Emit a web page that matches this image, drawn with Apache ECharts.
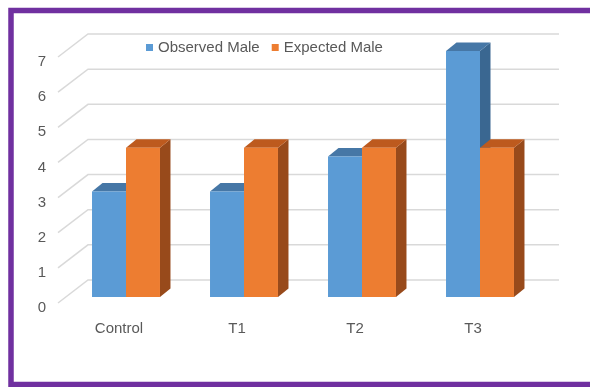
<!DOCTYPE html>
<html>
<head>
<meta charset="utf-8">
<script src="https://cdn.jsdelivr.net/npm/echarts@6/dist/echarts.min.js"></script>
<style>html,body{margin:0;padding:0;background:#fff;}#c{width:590px;height:387px;}</style>
</head>
<body>
<div id="c"></div>
<script>
const categories = ['Control', 'T1', 'T2', 'T3'];
const observedMale = [3, 3, 4, 7];
const expectedMale = [4.25, 4.25, 4.25, 4.25];
const yTicks = [0, 1, 2, 3, 4, 5, 6, 7];

const FONT = 'Liberation Sans';
const TEXT = '#595959';

function barRenderer(side, front, top, dark) {
  return function (params, api) {
    const i = api.value(0), v = api.value(1);
    const p = api.coord([i, v]);
    const b = api.coord([i, 0]);
    const bw = api.size([1, 0])[0] * 0.288;
    const x0 = side < 0 ? p[0] - bw : p[0];
    const x1 = x0 + bw;
    const yT = p[1], yB = b[1];
    const dx = 10.5, dy = -8.5;
    return {
      type: 'group',
      children: [
        { type: 'polygon', shape: { points: [[x1, yT], [x1 + dx, yT + dy], [x1 + dx, yB + dy], [x1, yB]] }, style: { fill: dark } },
        { type: 'polygon', shape: { points: [[x0, yT], [x0 + dx, yT + dy], [x1 + dx, yT + dy], [x1, yT]] }, style: { fill: top } },
        { type: 'rect', shape: { x: x0, y: yT, width: bw, height: yB - yT }, style: { fill: front } }
      ]
    };
  };
}

function wallRenderer(params, api) {
  const v = api.value(1);
  const cs = params.coordSys;
  const y = api.coord([0, v])[1];
  const fx = cs.x - 9, fy = y + 6;
  const bx = cs.x + 21, by = y - 17;
  const ex = cs.x + cs.width + 20;
  return {
    type: 'polyline',
    shape: { points: [[fx, fy], [bx, by], [ex, by]] },
    style: { stroke: '#d9d9d9', lineWidth: 1.5, fill: null }
  };
}

const chart = echarts.init(document.getElementById('c'), null, { renderer: 'canvas' });
chart.setOption({
  animation: false,
  backgroundColor: '#ffffff',
  textStyle: { fontFamily: FONT },
  graphic: [{
    type: 'rect', z: 100,
    shape: { x: 11, y: 10.5, width: 640, height: 374 },
    style: { fill: null, stroke: '#7030A0', lineWidth: 5.5 }
  }],
  legend: {
    left: 141, top: 35,
    itemWidth: 7, itemHeight: 7, itemGap: 12,
    icon: 'rect',
    textStyle: { color: TEXT, fontSize: 15, fontFamily: FONT },
    data: ['Observed Male', 'Expected Male']
  },
  grid: { left: 67, width: 472, top: 51, height: 246 },
  xAxis: {
    type: 'category', data: categories, boundaryGap: true,
    axisLine: { show: false }, axisTick: { show: false },
    axisLabel: { color: TEXT, fontSize: 15, fontFamily: FONT, margin: 24, padding: [0, 14, 0, 0] }
  },
  yAxis: {
    type: 'value', min: 0, max: 7, interval: 1,
    axisLine: { show: false }, axisTick: { show: false }, splitLine: { show: false },
    axisLabel: { color: TEXT, fontSize: 15, fontFamily: FONT, margin: 21, verticalAlign: 'top', lineHeight: 22 }
  },
  series: [
    {
      type: 'custom', name: 'walls', silent: true, z: 1,
      renderItem: wallRenderer,
      data: yTicks.map(v => [0, v]),
      encode: { x: 0, y: 1 }
    },
    {
      type: 'custom', name: 'Observed Male', z: 2,
      itemStyle: { color: '#5B9BD5' },
      renderItem: barRenderer(-1, '#5B9BD5', '#4677A6', '#3A6791'),
      data: observedMale.map((v, i) => [i, v]),
      encode: { x: 0, y: 1 }
    },
    {
      type: 'custom', name: 'Expected Male', z: 3,
      itemStyle: { color: '#ED7D31' },
      renderItem: barRenderer(1, '#ED7D31', '#BD5A1E', '#984A1B'),
      data: expectedMale.map((v, i) => [i, v]),
      encode: { x: 0, y: 1 }
    }
  ]
});
</script>
</body>
</html>
